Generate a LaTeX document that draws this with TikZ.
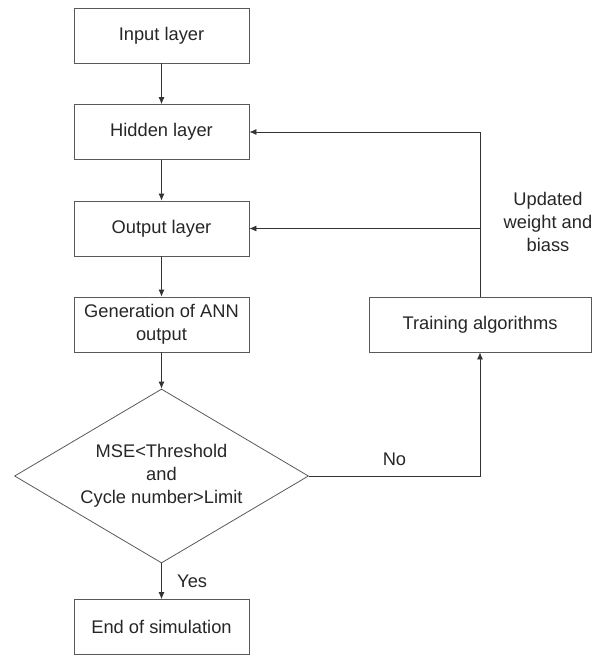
\documentclass[tikz,border=0pt]{standalone}
\usepackage{fontspec}
\setmainfont{Liberation Sans}
\usetikzlibrary{shapes.geometric,arrows.meta}
\tikzset{
  block/.style={draw=black!65, line width=0.8pt, minimum width=175pt, minimum height=55pt,
    inner sep=0pt, align=center, text=black!85, font=\fontsize{18.3}{23}\selectfont},
  decision/.style={block, diamond, aspect=1.69, minimum width=294pt, minimum height=174pt},
  flow/.style={draw=black!80, line width=0.8pt, -{Latex[length=7pt,width=6pt]}},
  tag/.style={text=black!85, align=center, font=\fontsize{18.3}{23}\selectfont},
}
\begin{document}
\begin{tikzpicture}[x=1pt,y=-1pt]
\useasboundingbox (0,0) rectangle (605,656);
% Network stages
\node[block] (input) at (161.5,35.5) {Input layer};
\node[block] (hidden) at (161.5,132) {Hidden layer};
\node[block] (output) at (161.5,228.5) {Output layer};
\node[block] (gen) at (161.5,324.5) {Generation of ANN\\output};
\node[decision] (check) at (161.5,476) {MSE<Threshold\\and\\Cycle number>Limit};
\node[block] (endsim) at (161.5,627) {End of simulation};
\node[block, minimum width=222pt] (train) at (480,324.5) {Training algorithms};
% Main flow
\draw[flow] (input) -- (hidden);
\draw[flow] (hidden) -- (output);
\draw[flow] (output) -- (gen);
\draw[flow] (gen) -- (check);
\draw[flow] (check) -- (endsim) node[tag, midway, right=12pt] {Yes};
% Feedback loop
\coordinate (corner) at (check.east -| train.south);
\coordinate (split) at (train.north |- output.east);
\draw[flow] (check.east) -- (corner) node[tag, midway, above=7pt] {No} -- (train.south);
\draw[flow] (train.north) -- (train.north |- hidden.east) -- (hidden.east);
\draw[flow] (split) -- (output.east);
\node[tag] (update) at (548,222) {Updated\\weight and\\biass};
\end{tikzpicture}
\end{document}
